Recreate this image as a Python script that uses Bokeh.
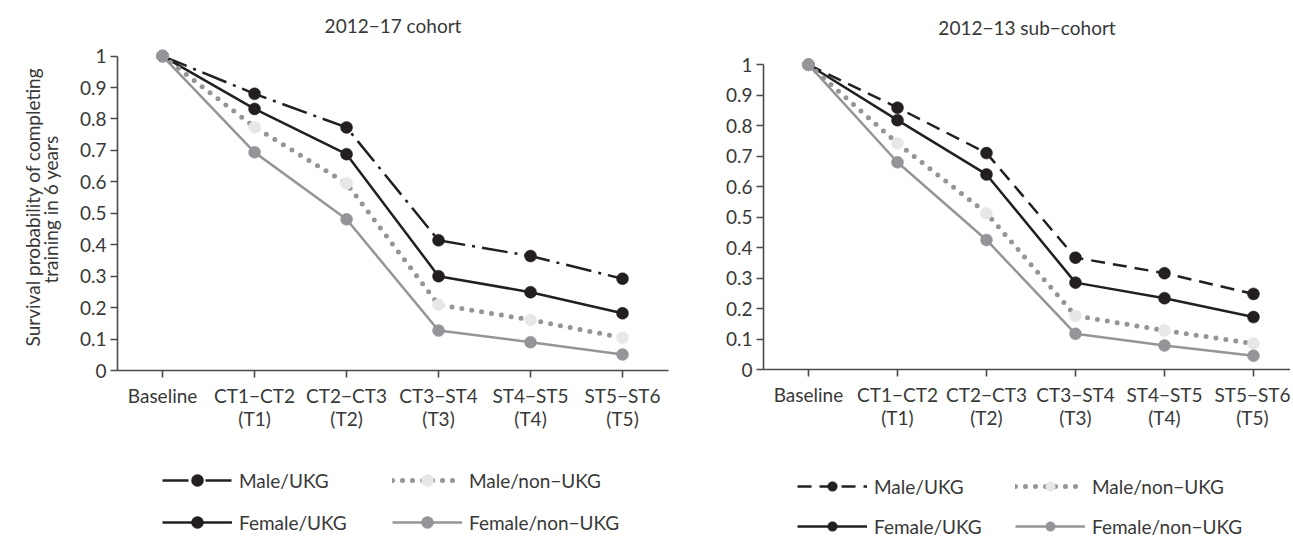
from bokeh.plotting import figure
from bokeh.models import FixedTicker, Legend, LegendItem, Range1d
from bokeh.layouts import row, column
from bokeh.embed import file_html
from bokeh.resources import INLINE

# ---------------- data ----------------
categories = ["Baseline", "CT1\u2212CT2\n(T1)", "CT2\u2212CT3\n(T2)",
              "CT3\u2212ST4\n(T3)", "ST4\u2212ST5\n(T4)", "ST5\u2212ST6\n(T5)"]
y_ticks = [0, 0.1, 0.2, 0.3, 0.4, 0.5, 0.6, 0.7, 0.8, 0.9, 1]
y_tick_labels = ["0", "0.1", "0.2", "0.3", "0.4", "0.5", "0.6", "0.7", "0.8", "0.9", "1"]

series_names = ["Male/UKG", "Female/UKG", "Male/non\u2212UKG", "Female/non\u2212UKG"]
legend_order = ["Male/UKG", "Male/non\u2212UKG", "Female/UKG", "Female/non\u2212UKG"]

title_17 = "2012\u221217 cohort"
male_ukg_17 = [1, 0.880, 0.773, 0.414, 0.364, 0.292]
female_ukg_17 = [1, 0.832, 0.688, 0.300, 0.249, 0.182]
male_non_17 = [1, 0.774, 0.595, 0.209, 0.161, 0.104]
female_non_17 = [1, 0.694, 0.481, 0.127, 0.090, 0.051]

title_13 = "2012\u221213 sub\u2212cohort"
male_ukg_13 = [1, 0.859, 0.710, 0.367, 0.316, 0.248]
female_ukg_13 = [1, 0.818, 0.640, 0.285, 0.234, 0.172]
male_non_13 = [1, 0.742, 0.513, 0.176, 0.128, 0.085]
female_non_13 = [1, 0.680, 0.425, 0.117, 0.079, 0.045]

y_label = "Survival probability of completing\ntraining in  6 years"

# ---------------- style ----------------
FONT = "Lato"
TXT = "#383838"
BLACK = "#231f20"
GREY = "#939598"
LIGHT = "#e6e7e8"
AXIS = "#4a4a4a"


def series_styles(male_dash):
    return {
        "Male/UKG": dict(line_color=BLACK, line_width=2.5, line_dash=male_dash,
                         line_cap="butt", fill=BLACK),
        "Female/UKG": dict(line_color=BLACK, line_width=2.5, line_dash="solid",
                           line_cap="butt", fill=BLACK),
        "Male/non\u2212UKG": dict(line_color=GREY, line_width=5, line_dash="0 10",
                                  line_cap="round", fill=LIGHT),
        "Female/non\u2212UKG": dict(line_color=GREY, line_width=2.5, line_dash="solid",
                                    line_cap="butt", fill=GREY),
    }


def draw_series(p, data, male_dash):
    xs = list(range(len(categories)))
    styles = series_styles(male_dash)
    rends = {}
    for name, ys in zip(series_names, data):
        st = styles[name]
        lr = p.line(xs, ys, line_color=st["line_color"], line_width=st["line_width"],
                    line_dash=st["line_dash"], line_cap=st["line_cap"])
        sr = p.scatter(xs, ys, size=12, marker="circle", fill_color=st["fill"],
                       line_color=st["fill"], line_width=0.5)
        rends[name] = [lr, sr]
    return rends


def make_plot(title, data, male_dash, width, height, bl, br, bt, bb, x_start, x_end,
              title_standoff, show_ylabel):
    p = figure(width=width, height=height, x_range=Range1d(x_start, x_end),
               y_range=Range1d(0, 1.04), output_backend="svg",
               toolbar_location=None, min_border_left=bl, min_border_right=br,
               min_border_top=bt, min_border_bottom=bb, title=title)
    p.frame_align = False
    p.outline_line_color = None
    p.grid.visible = False
    p.background_fill_color = "white"
    p.border_fill_color = "white"

    p.title.align = "center"
    p.title.text_font = FONT
    p.title.text_font_size = "19px"
    p.title.text_font_style = "normal"
    p.title.text_color = TXT
    p.title.standoff = title_standoff

    xs = list(range(len(categories)))
    p.xaxis.ticker = FixedTicker(ticks=xs)
    p.xaxis.major_label_overrides = {x: c for x, c in zip(xs, categories)}
    p.yaxis.ticker = FixedTicker(ticks=y_ticks)
    p.yaxis.major_label_overrides = {t: l for t, l in zip(y_ticks, y_tick_labels)}
    p.yaxis.bounds = (0, 1)

    for ax in (p.xaxis, p.yaxis):
        ax.axis_line_color = AXIS
        ax.axis_line_width = 1.6
        ax.major_tick_line_color = AXIS
        ax.major_tick_line_width = 1.6
        ax.major_tick_out = 7
        ax.major_tick_in = 0
        ax.minor_tick_line_color = None
        ax.major_label_text_font = FONT
        ax.major_label_text_font_size = "19px"
        ax.major_label_text_color = TXT
    p.xaxis.major_label_standoff = 6
    p.xaxis.major_label_text_line_height = 1.0
    p.yaxis.major_label_standoff = 4
    if show_ylabel:
        p.yaxis.axis_label = y_label
        p.yaxis.axis_label_text_font = FONT
        p.yaxis.axis_label_text_font_size = "19px"
        p.yaxis.axis_label_text_font_style = "normal"
        p.yaxis.axis_label_text_color = TXT
        p.yaxis.axis_label_text_line_height = 0.8
        p.yaxis.axis_label_standoff = 15

    draw_series(p, data, male_dash)
    return p


def make_legend(data, male_dash, width, height, loc, glyph_h, spacing, label_width):
    # the series are drawn again here only to feed the legend; the ranges keep them out of view
    q = figure(width=width, height=height, x_range=Range1d(100, 101),
               y_range=Range1d(100, 101), output_backend="svg", toolbar_location=None,
               min_border=0, x_axis_location=None, y_axis_location=None)
    q.frame_align = False
    q.outline_line_color = None
    q.grid.visible = False
    rends = draw_series(q, data, male_dash)
    items = [LegendItem(label=n, renderers=rends[n]) for n in legend_order]
    legend = Legend(items=items, location=loc, orientation="horizontal", ncols=2,
                    padding=0, margin=0, spacing=spacing, glyph_width=70,
                    glyph_height=glyph_h, label_height=glyph_h, label_width=label_width,
                    label_standoff=7, label_text_font=FONT, label_text_font_size="19px",
                    label_text_color=TXT, border_line_color=None,
                    background_fill_alpha=0)
    q.add_layout(legend, "center")
    return q


data_17 = [male_ukg_17, female_ukg_17, male_non_17, female_non_17]
data_13 = [male_ukg_13, female_ukg_13, male_non_13, female_non_13]

p1 = make_plot(title_17, data_17, "26 7 3 7", 690, 465, 117, 22, 43, 95, -0.49, 5.5, 14, True)
l1 = make_legend(data_17, "26 7 3 7", 690, 72, (162, 0), 30, 12, 141)

p2 = make_plot(title_13, data_13, "14 8", 600, 474, 73, 0, 51, 105, -0.5056, 5.416, 27, False)
l2 = make_legend(data_13, "14 8", 600, 64, (107, 0), 24, 16, 125)

layout = row(column(p1, l1), column(p2, l2))
open("out.html", "w").write(file_html(layout, INLINE))
